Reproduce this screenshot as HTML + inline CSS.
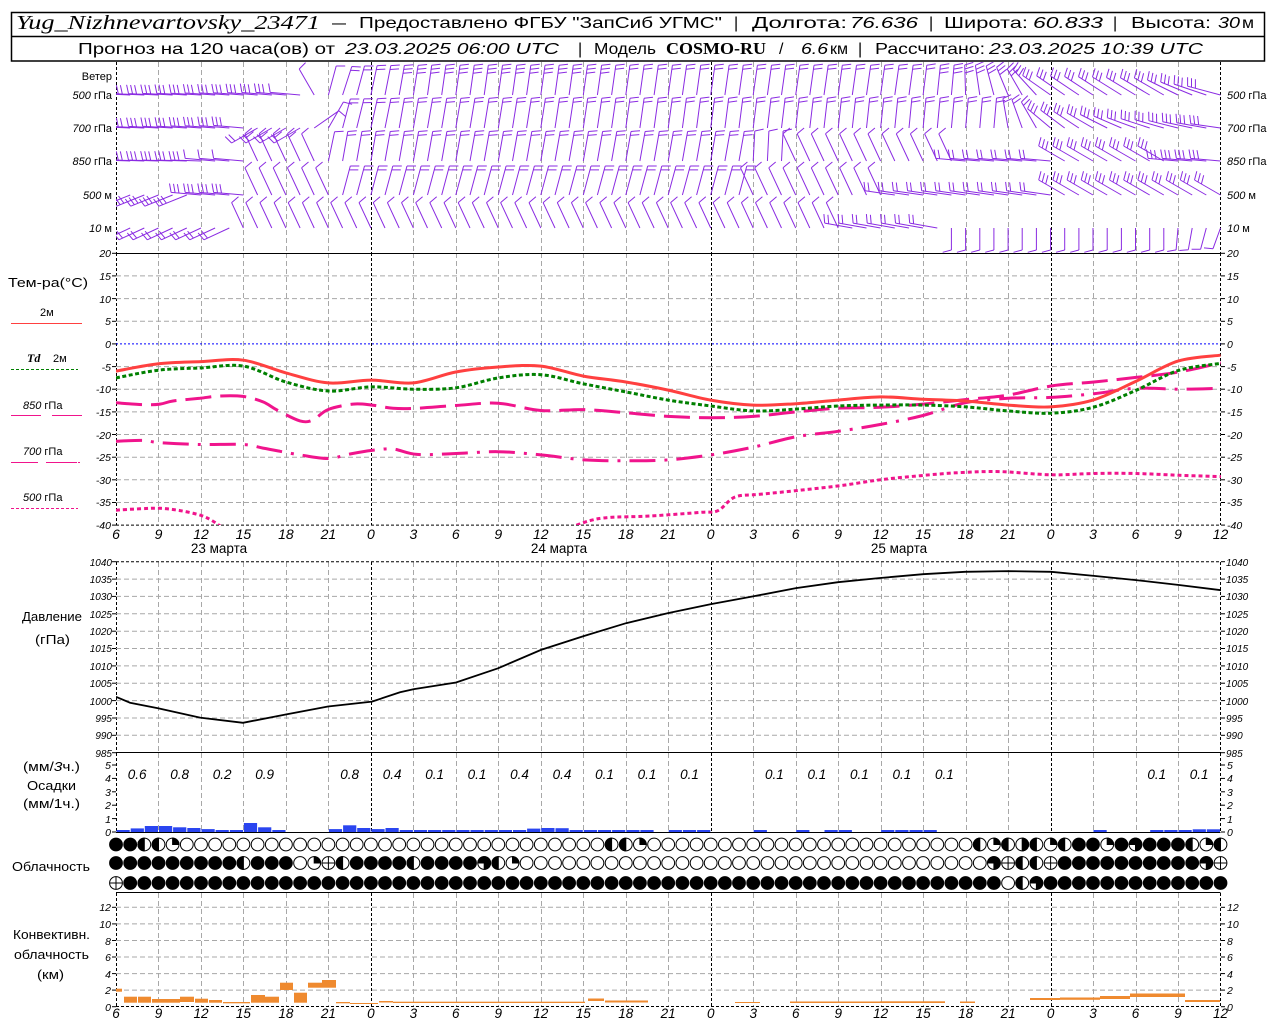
<!DOCTYPE html>
<html><head><meta charset="utf-8">
<style>
html,body{margin:0;padding:0;background:#fff;}
svg{display:block;}
text{font-family:"Liberation Sans",sans-serif;fill:#000;}
.it{font-style:italic;}
.tk{font-size:10.5px;font-style:italic;}
.tm{font-size:14px;font-style:italic;}
.lb{font-size:12.5px;}
.hd{font-size:16px;}
</style></head>
<body>
<svg id="s" width="1280" height="1024" viewBox="0 0 1280 1024" xmlns="http://www.w3.org/2000/svg">
<defs>
<clipPath id="cw"><rect x="116" y="62" width="1105" height="191"/></clipPath>
<clipPath id="ct"><rect x="116" y="253" width="1105" height="272"/></clipPath>
<clipPath id="cp"><rect x="116" y="562" width="1105" height="191"/></clipPath>
</defs>
<rect x="0" y="0" width="1280" height="1024" fill="#fff"/>
<g id="gfx"></g>

<!-- header -->
<rect x="11.5" y="12.5" width="1253" height="48.5" fill="none" stroke="#000" stroke-width="1.5"/>
<line x1="11.5" y1="36.5" x2="1264.5" y2="36.5" stroke="#000" stroke-width="1.5"/>
<text x="16" y="29" style="font-family:'Liberation Serif',serif;font-style:italic;font-size:20px" textLength="304" lengthAdjust="spacingAndGlyphs">Yug_Nizhnevartovsky_23471</text>
<text class="hd" x="332" y="28" textLength="14" lengthAdjust="spacingAndGlyphs">—</text>
<text class="hd" x="359" y="28" textLength="363" lengthAdjust="spacingAndGlyphs">Предоставлено ФГБУ "ЗапСиб УГМС"</text>
<text class="hd" x="734" y="28">|</text>
<text class="hd" x="752" y="28" textLength="95" lengthAdjust="spacingAndGlyphs">Долгота:</text>
<text class="hd it" x="850" y="28" textLength="68" lengthAdjust="spacingAndGlyphs">76.636</text>
<text class="hd" x="929" y="28">|</text>
<text class="hd" x="944" y="28" textLength="84" lengthAdjust="spacingAndGlyphs">Широта:</text>
<text class="hd it" x="1033" y="28" textLength="70" lengthAdjust="spacingAndGlyphs">60.833</text>
<text class="hd" x="1113" y="28">|</text>
<text class="hd" x="1131" y="28" textLength="80" lengthAdjust="spacingAndGlyphs">Высота:</text>
<text class="hd it" x="1218" y="28" textLength="22" lengthAdjust="spacingAndGlyphs">30</text>
<text class="hd" x="1242" y="28" textLength="12" lengthAdjust="spacingAndGlyphs">м</text>

<text class="hd" x="78" y="54" textLength="257" lengthAdjust="spacingAndGlyphs">Прогноз на 120 часа(ов) от</text>
<text class="hd it" x="345" y="54" textLength="214" lengthAdjust="spacingAndGlyphs">23.03.2025 06:00 UTC</text>
<text class="hd" x="578" y="54">|</text>
<text class="hd" x="594" y="54" textLength="62" lengthAdjust="spacingAndGlyphs">Модель</text>
<text x="666" y="54" style="font-family:'Liberation Serif',serif;font-weight:bold;font-size:17px" textLength="100" lengthAdjust="spacingAndGlyphs">COSMO-RU</text>
<text class="hd" x="779" y="54">/</text>
<text class="hd it" x="801" y="54" textLength="27" lengthAdjust="spacingAndGlyphs">6.6</text>
<text class="hd" x="830" y="54" textLength="18" lengthAdjust="spacingAndGlyphs">км</text>
<text class="hd" x="858" y="54">|</text>
<text class="hd" x="875" y="54" textLength="110" lengthAdjust="spacingAndGlyphs">Рассчитано:</text>
<text class="hd it" x="989" y="54" textLength="214" lengthAdjust="spacingAndGlyphs">23.03.2025 10:39 UTC</text>

<!-- wind labels -->
<g class="lb" style="font-size:11px">
<text x="112" y="80" text-anchor="end">Ветер</text>
<text x="112" y="99" text-anchor="end"><tspan class="it">500</tspan> гПа</text>
<text x="112" y="132" text-anchor="end"><tspan class="it">700</tspan> гПа</text>
<text x="112" y="165" text-anchor="end"><tspan class="it">850</tspan> гПа</text>
<text x="112" y="199" text-anchor="end"><tspan class="it">500</tspan>  м</text>
<text x="112" y="232" text-anchor="end"><tspan class="it">10</tspan>   м</text>
<text x="1227" y="99"><tspan class="it">500</tspan> гПа</text>
<text x="1227" y="132"><tspan class="it">700</tspan> гПа</text>
<text x="1227" y="165"><tspan class="it">850</tspan> гПа</text>
<text x="1227" y="199"><tspan class="it">500</tspan>  м</text>
<text x="1227" y="232"><tspan class="it">10</tspan>   м</text>
</g>

<!-- temperature legend -->
<text class="lb" x="8" y="287" textLength="80" lengthAdjust="spacingAndGlyphs">Тем-ра(°С)</text>
<text class="lb" x="40" y="316" style="font-size:11px">2м</text>
<line x1="11" y1="323.5" x2="82" y2="323.5" stroke="#ff4040" stroke-width="1"/>
<text x="27" y="362" style="font-family:'Liberation Serif',serif;font-style:italic;font-weight:bold;font-size:12px">Td</text>
<text class="lb" x="53" y="362" style="font-size:11px">2м</text>
<line x1="11" y1="369.5" x2="78" y2="369.5" stroke="#008000" stroke-width="1" stroke-dasharray="3,2"/>
<text class="lb" x="23" y="409" style="font-size:11px"><tspan class="it">850</tspan>  гПа</text>
<line x1="11" y1="415.5" x2="41" y2="415.5" stroke="#f0148c" stroke-width="1"/>
<line x1="52" y1="415.5" x2="82" y2="415.5" stroke="#f0148c" stroke-width="1"/>
<text class="lb" x="23" y="455" style="font-size:11px"><tspan class="it">700</tspan>  гПа</text>
<path d="M11 462.5H38M46 462.5H49M49 462.5H77M78 462.5H80" stroke="#f0148c" stroke-width="1"/>
<text class="lb" x="23" y="501" style="font-size:11px"><tspan class="it">500</tspan>  гПа</text>
<line x1="11" y1="508.5" x2="78" y2="508.5" stroke="#f0148c" stroke-width="1" stroke-dasharray="3,2"/>

<!-- temp ticks labels -->
<g class="tk">
<g text-anchor="end">
<text x="111" y="257">20</text><text x="111" y="280">15</text><text x="111" y="303">10</text><text x="111" y="325">5</text><text x="111" y="348">0</text><text x="111" y="371">-5</text><text x="111" y="393">-10</text><text x="111" y="416">-15</text><text x="111" y="439">-20</text><text x="111" y="461">-25</text><text x="111" y="484">-30</text><text x="111" y="506">-35</text><text x="111" y="529">-40</text>
</g>
<text x="1227" y="257">20</text><text x="1227" y="280">15</text><text x="1227" y="303">10</text><text x="1227" y="325">5</text><text x="1227" y="348">0</text><text x="1227" y="371">-5</text><text x="1227" y="393">-10</text><text x="1227" y="416">-15</text><text x="1227" y="439">-20</text><text x="1227" y="461">-25</text><text x="1227" y="484">-30</text><text x="1227" y="506">-35</text><text x="1227" y="529">-40</text>
</g>

<!-- time labels upper -->
<g class="tm" text-anchor="middle">
<text x="116" y="539">6</text><text x="158.5" y="539">9</text><text x="201" y="539">12</text><text x="243.4" y="539">15</text><text x="285.9" y="539">18</text><text x="328.4" y="539">21</text><text x="370.9" y="539">0</text><text x="413.4" y="539">3</text><text x="455.8" y="539">6</text><text x="498.3" y="539">9</text><text x="540.8" y="539">12</text><text x="583.3" y="539">15</text><text x="625.8" y="539">18</text><text x="668.2" y="539">21</text><text x="710.7" y="539">0</text><text x="753.2" y="539">3</text><text x="795.7" y="539">6</text><text x="838.2" y="539">9</text><text x="880.6" y="539">12</text><text x="923.1" y="539">15</text><text x="965.6" y="539">18</text><text x="1008.1" y="539">21</text><text x="1050.6" y="539">0</text><text x="1093" y="539">3</text><text x="1135.5" y="539">6</text><text x="1178" y="539">9</text><text x="1220.5" y="539">12</text>
</g>
<g style="font-size:13.5px" text-anchor="middle">
<text x="219" y="553">23 марта</text>
<text x="559" y="553">24 марта</text>
<text x="899" y="553">25 марта</text>
</g>

<!-- pressure labels -->
<text class="lb" x="22" y="621" textLength="60" lengthAdjust="spacingAndGlyphs">Давление</text>
<text class="lb" x="35" y="644" textLength="35" lengthAdjust="spacingAndGlyphs">(гПа)</text>
<g class="tk" style="font-size:10px">
<g text-anchor="end">
<text x="112" y="566">1040</text><text x="112" y="583">1035</text><text x="112" y="600">1030</text><text x="112" y="618">1025</text><text x="112" y="635">1020</text><text x="112" y="652">1015</text><text x="112" y="670">1010</text><text x="112" y="687">1005</text><text x="112" y="705">1000</text><text x="112" y="722">995</text><text x="112" y="739">990</text><text x="112" y="757">985</text>
</g>
<text x="1226" y="566">1040</text><text x="1226" y="583">1035</text><text x="1226" y="600">1030</text><text x="1226" y="618">1025</text><text x="1226" y="635">1020</text><text x="1226" y="652">1015</text><text x="1226" y="670">1010</text><text x="1226" y="687">1005</text><text x="1226" y="705">1000</text><text x="1226" y="722">995</text><text x="1226" y="739">990</text><text x="1226" y="757">985</text>
</g>

<!-- precip labels -->
<text class="lb" x="23" y="771" textLength="57" lengthAdjust="spacingAndGlyphs">(мм/<tspan class="it">3</tspan>ч.)</text>
<text class="lb" x="27" y="790" textLength="49" lengthAdjust="spacingAndGlyphs">Осадки</text>
<text class="lb" x="23" y="808" textLength="57" lengthAdjust="spacingAndGlyphs">(мм/1ч.)</text>
<g class="tk">
<g text-anchor="end">
<text x="111" y="769">5</text><text x="111" y="782">4</text><text x="111" y="796">3</text><text x="111" y="809">2</text><text x="111" y="823">1</text><text x="111" y="836">0</text>
</g>
<text x="1227" y="769">5</text><text x="1227" y="782">4</text><text x="1227" y="796">3</text><text x="1227" y="809">2</text><text x="1227" y="823">1</text><text x="1227" y="836">0</text>
</g>
<g class="it" style="font-size:13.5px" text-anchor="middle">
<text x="137.2" y="779">0.6</text><text x="179.7" y="779">0.8</text><text x="222.2" y="779">0.2</text><text x="264.7" y="779">0.9</text><text x="349.6" y="779">0.8</text><text x="392.1" y="779">0.4</text><text x="434.6" y="779">0.1</text><text x="477" y="779">0.1</text><text x="519.5" y="779">0.4</text><text x="562" y="779">0.4</text><text x="604.5" y="779">0.1</text><text x="647" y="779">0.1</text><text x="689.5" y="779">0.1</text><text x="774.4" y="779">0.1</text><text x="816.9" y="779">0.1</text><text x="859.4" y="779">0.1</text><text x="901.9" y="779">0.1</text><text x="944.4" y="779">0.1</text><text x="1156.8" y="779">0.1</text><text x="1199.2" y="779">0.1</text>
</g>

<!-- cloud label -->
<text class="lb" x="12" y="871" textLength="78" lengthAdjust="spacingAndGlyphs">Облачность</text>

<!-- convective labels -->
<text class="lb" x="13" y="939" textLength="77" lengthAdjust="spacingAndGlyphs">Конвективн.</text>
<text class="lb" x="14" y="959" textLength="75" lengthAdjust="spacingAndGlyphs">облачность</text>
<text class="lb" x="37" y="979" textLength="27" lengthAdjust="spacingAndGlyphs">(км)</text>
<g class="tk">
<g text-anchor="end">
<text x="111" y="911">12</text><text x="111" y="928">10</text><text x="111" y="945">8</text><text x="111" y="961">6</text><text x="111" y="978">4</text><text x="111" y="994">2</text><text x="111" y="1011">0</text>
</g>
<text x="1227" y="911">12</text><text x="1227" y="928">10</text><text x="1227" y="945">8</text><text x="1227" y="961">6</text><text x="1227" y="978">4</text><text x="1227" y="994">2</text><text x="1227" y="1011">0</text>
</g>
<g class="tm" style="font-size:13.5px" text-anchor="middle">
<text x="116" y="1018">6</text><text x="158.5" y="1018">9</text><text x="201" y="1018">12</text><text x="243.4" y="1018">15</text><text x="285.9" y="1018">18</text><text x="328.4" y="1018">21</text><text x="370.9" y="1018">0</text><text x="413.4" y="1018">3</text><text x="455.8" y="1018">6</text><text x="498.3" y="1018">9</text><text x="540.8" y="1018">12</text><text x="583.3" y="1018">15</text><text x="625.8" y="1018">18</text><text x="668.2" y="1018">21</text><text x="710.7" y="1018">0</text><text x="753.2" y="1018">3</text><text x="795.7" y="1018">6</text><text x="838.2" y="1018">9</text><text x="880.6" y="1018">12</text><text x="923.1" y="1018">15</text><text x="965.6" y="1018">18</text><text x="1008.1" y="1018">21</text><text x="1050.6" y="1018">0</text><text x="1093" y="1018">3</text><text x="1135.5" y="1018">6</text><text x="1178" y="1018">9</text><text x="1220.5" y="1018">12</text>
</g>
</svg>

<script>
(function(){
const NS="http://www.w3.org/2000/svg";
const G=document.getElementById('gfx');
function mk(tag,a,p){const e=document.createElementNS(NS,tag);for(const k in a)e.setAttribute(k,a[k]);(p||G).appendChild(e);return e;}
const X=h=>116+h*14.16;
const XL=116, XR=X(78);
const YT=t=>253.3+(20-t)*4.53;
const YP=p=>561.7+(1040-p)*3.4727;
const YR=v=>832-v*13.4;
const YC=k=>1006.7-k*8.28;
const f=v=>v.toFixed(1);

/* ---------- grids ---------- */
const grid=mk('g',{'stroke-width':1,fill:'none'});
function hl(y,col,dash){mk('line',{x1:XL,x2:XR,y1:y,y2:y,stroke:col,'stroke-dasharray':dash||'none'},grid);}
const panels=[[62,253],[253,525],[562,753],[753,832],[893,1007]];
for(const [t,b] of panels){
  for(let k=0;k<=26;k++){
    const x=Math.round(X(3*k))+0.5;
    const day=(k==0||k==6||k==14||k==22||k==26);
    mk('line',{x1:x,x2:x,y1:t,y2:b,stroke:day?'#000':'#a8a8a8','stroke-dasharray':day?'3,2':'5,3'},grid);
  }
}
for(let t=15;t>=-35;t-=5){ if(t!==0) hl(f(YT(t)),'#a8a8a8','5,3'); }
hl(f(YT(0)),'#0000ff','2,2');
hl(f(YT(-40)),'#000','3,2');
hl(253.5,'#000');
for(let p=1035;p>=990;p-=5) hl(f(YP(p)),'#a8a8a8','5,3');
hl(f(YP(1040)),'#000','3,2');
hl(752.5,'#000');
hl(832.5,'#000');
for(let k=2;k<=12;k+=2) hl(f(YC(k)),'#a8a8a8','5,3');
hl(892.5,'#000');
hl(1006.5,'#000','3,2');
/* ticks */
function ticks(vals,fy){for(const v of vals){const y=f(fy(v));mk('line',{x1:112,x2:116,y1:y,y2:y,stroke:'#000'},grid);mk('line',{x1:1221,x2:1225,y1:y,y2:y,stroke:'#000'},grid);}}
ticks([20,15,10,5,0,-5,-10,-15,-20,-25,-30,-35,-40],YT);
ticks([1040,1035,1030,1025,1020,1015,1010,1005,1000,995,990,985],YP);
ticks([0,1,2,3,4,5],YR);
ticks([0,2,4,6,8,10,12],YC);

/* ---------- smooth path ---------- */
function smooth(pts){
  let d='M'+f(pts[0][0])+' '+f(pts[0][1]);
  for(let i=0;i<pts.length-1;i++){
    const p0=pts[Math.max(0,i-1)],p1=pts[i],p2=pts[i+1],p3=pts[Math.min(pts.length-1,i+2)];
    d+='C'+f(p1[0]+(p2[0]-p0[0])/6)+' '+f(p1[1]+(p2[1]-p0[1])/6)+' '+f(p2[0]-(p3[0]-p1[0])/6)+' '+f(p2[1]-(p3[1]-p1[1])/6)+' '+f(p2[0])+' '+f(p2[1]);
  }
  return d;
}
const tg=mk('g',{'clip-path':'url(#ct)',fill:'none','stroke-linecap':'butt'});
function series3(vals,st){const pts=vals.map((v,i)=>[X(3*i),YT(v)]);const a=Object.assign({d:smooth(pts)},st);mk('path',a,tg);}
function seriesX(arr,st,fy,p){const pts=arr.map(q=>[q[0],fy(q[1])]);const a=Object.assign({d:smooth(pts)},st);mk('path',a,p);}
const PINK='#f0148c';
// 500 hPa
seriesX([[116,-36.7],[140,-36.4],[160,-36.3],[180,-36.8],[200,-37.8],[212,-39],[225,-41]],{stroke:PINK,'stroke-width':3,'stroke-dasharray':'4,3'},YT,tg);
seriesX([[570,-40.6],[590,-39],[610,-38.3],[650,-38],[700,-37.2],[718,-36.8],[735,-33.8],[760,-33.2],[800,-32.3],[840,-31.3],[880,-30],[920,-29.1],[960,-28.4],[1000,-28.2],[1051,-28.9],[1094,-28.6],[1136,-28.6],[1179,-29],[1221,-29.3]],{stroke:PINK,'stroke-width':3,'stroke-dasharray':'4,3'},YT,tg);
// 700 hPa
seriesX([[116,-21.5],[143,-21.3],[160,-21.8],[200,-22.2],[243,-22.2],[263,-23],[280,-23.7],[300,-24.5],[328,-25.3],[350,-24.3],[372,-23.5],[393,-23.2],[417,-24.4],[456,-24.2],[498,-23.8],[541,-24.5],[584,-25.6],[626,-25.8],[668,-25.6],[711,-24.5],[753,-22.8],[796,-20.5],[838,-19.3],[880,-17.8],[923,-15.8],[965,-13],[1008,-12],[1051,-11.8],[1094,-11],[1136,-9.8],[1179,-10],[1221,-9.8]],{stroke:PINK,'stroke-width':3,'stroke-dasharray':'26,9,3,9'},YT,tg);
// 850 hPa
seriesX([[116,-13],[143,-13.4],[160,-13.3],[173,-12.6],[200,-12],[220,-11.5],[243,-11.6],[263,-12.8],[277,-14.6],[300,-17],[313,-16.8],[328,-14.5],[353,-13.3],[372,-13.5],[393,-14.2],[417,-14.2],[456,-13.6],[498,-13.1],[541,-14.7],[584,-14.5],[626,-15.2],[668,-16],[711,-16.3],[753,-16],[796,-15],[838,-14.2],[880,-14],[923,-13.3],[965,-12.3],[1008,-11.3],[1051,-9.3],[1094,-8.4],[1136,-7.4],[1179,-6.2],[1221,-4.2]],{stroke:PINK,'stroke-width':3,'stroke-dasharray':'26,9'},YT,tg);
// Td
series3([-7.5,-5.8,-5.3,-4.9,-8.4,-10.4,-9.5,-10.0,-9.7,-7.5,-6.8,-8.8,-10.6,-12.4,-13.7,-14.8,-14.4,-13.7,-13.5,-13.5,-13.9,-14.8,-15.3,-14.0,-10.3,-5.9,-4.3],{stroke:'#008000','stroke-width':3,'stroke-dasharray':'4,2.5'});
// T2m
series3([-6.0,-4.4,-3.9,-3.6,-6.4,-8.6,-8.0,-8.6,-6.2,-5.1,-4.9,-7.1,-8.4,-10.2,-12.4,-13.5,-13.2,-12.4,-11.7,-12.2,-12.6,-13.5,-13.9,-12.4,-8.3,-3.8,-2.5],{stroke:'#ff4040','stroke-width':3});

/* ---------- pressure ---------- */
const pg=mk('g',{'clip-path':'url(#cp)',fill:'none'});
const pk=[[116,1001.1],[130,999.4],[158,997.8],[200,995.1],[243,993.6],[287,996.1],[328,998.3],[372,999.7],[400,1002.4],[414,1003.3],[456,1005.2],[498,1009.3],[541,1014.6],[584,1018.6],[626,1022.3],[668,1025.2],[711,1027.8],[753,1030],[796,1032.4],[838,1034.1],[880,1035.3],[923,1036.4],[965,1037.1],[1008,1037.3],[1051,1037.1],[1094,1035.9],[1136,1034.7],[1179,1033.3],[1221,1031.8]];
mk('polyline',{points:pk.map(q=>f(q[0])+','+f(YP(q[1]))).join(' '),stroke:'#000','stroke-width':1.8,fill:'none'},pg);

/* ---------- precipitation ---------- */
const pr=[.15,.27,.45,.45,.35,.3,.22,.15,.15,.67,.35,.1,0,0,0,.22,.5,.3,.22,.3,.15,.1,.05,.05,.08,.08,.08,.15,.15,.25,.3,.28,.15,.1,.05,.05,.05,.05,0,.05,.05,.05,0,0,0,.05,0,0,.05,0,.05,.05,0,0,.05,.05,.05,.05,0,0,0,0,0,0,0,0,0,0,0,.05,0,0,0,.08,.08,.08,.2,.2];
const rg=mk('g',{fill:'#2a45f0'});
pr.forEach((v,h)=>{ if(v>0){const hh=Math.max(2,v*13.4);const x1=X(h)+0.5,x2=X(h+1)-0.5;mk('rect',{x:f(x1),y:f(832-hh),width:f(x2-x1),height:f(hh)},rg);} });

/* ---------- convective ---------- */
const cb=[[116,122,988.7,991.7],[124,137,996.7,1002.7],[138,151,996.7,1002.7],[152,180,999,1002.7],[180,194,996.7,1002],[195,208,998.7,1002.7],[209,222,1000,1002.7],[223,250,1002,1003.3],[251,265,995,1002.7],[265,279,996.7,1002.7],[280,293,982.7,990],[294,307,992.7,1002.7],[308,322,982.7,987.7],[322,336,980,987.7],[336,350,1002,1003.3],[350,364,1003,1004],[364,378,1003,1004],[379,393,1001,1002.5],[393,500,1001.7,1003],[500,585,1001.7,1003],[588,604,998.5,1001],[605,648,1000.5,1002.5],[735,760,1002,1003],[790,880,1001.5,1003],[880,945,1001.3,1003],[960,975,1001.5,1003],[1030,1060,998,1000],[1060,1100,997.5,999.8],[1100,1130,996,999],[1130,1185,993.5,997],[1185,1220,1000,1002]];
const cg=mk('g',{fill:'#ef8a2f'});
cb.forEach(b=>mk('rect',{x:b[0],y:b[2],width:b[1]-b[0],height:f(b[3]-b[2])},cg));

/* ---------- clouds ---------- */
function rowStr(spec){let s='';for(const [c,n] of spec) s+=c.repeat(n);return s;}
const r1=rowStr([['F',2],['L',2],['Q',1],['E',30],['L',2],['Q',1],['E',23],['L',1],['Q',1],['L',1],['R',1],['L',1],['Q',1],['L',1],['F',2],['Q',1],['F',1],['T',1],['F',3],['L',1],['Q',1],['L',1]]);
const r2=rowStr([['F',9],['L',1],['F',3],['E',1],['Q',1],['X',1],['L',1],['F',4],['L',1],['F',4],['T',1],['L',1],['Q',1],['E',33],['T',1],['X',1],['L',2],['X',1],['F',10],['T',1],['X',1]]);
const r3=rowStr([['X',1],['F',62],['E',1],['L',1],['T',1],['F',13]]);
const og=mk('g',{stroke:'#000','stroke-width':1});
function cloud(x,y,c){
  const r=6.4;
  mk('circle',{cx:f(x),cy:y,r:r,fill:c==='F'?'#000':'#fff'},og);
  const X1=f(x),L=f(x-r),R=f(x+r),T=f(y-r),B=f(y+r);
  if(c==='L') mk('path',{d:`M${X1} ${T}A${r} ${r} 0 0 0 ${X1} ${B}Z`,fill:'#000'},og);
  if(c==='R') mk('path',{d:`M${X1} ${T}A${r} ${r} 0 0 1 ${X1} ${B}Z`,fill:'#000'},og);
  if(c==='Q') mk('path',{d:`M${X1} ${y}L${X1} ${T}A${r} ${r} 0 0 1 ${R} ${y}Z`,fill:'#000'},og);
  if(c==='T') mk('path',{d:`M${X1} ${y}L${L} ${y}A${r} ${r} 0 1 1 ${X1} ${B}Z`,fill:'#000'},og);
  if(c==='X') mk('path',{d:`M${L} ${y}H${R}M${X1} ${T}V${B}`,fill:'none'},og);
}
[[r1,844.5],[r2,863],[r3,883]].forEach(([s,y])=>{for(let h=0;h<=78;h++){cloud(X(h),y,s[h]||'F');}});

/* ---------- wind barbs ---------- */
function barbRow(yb,L,kf){
  const g=mk('g',{stroke:'#8a2be2','stroke-width':1,fill:'none','clip-path':'url(#cw)'});
  const c=Math.cos(75*Math.PI/180),s=Math.sin(75*Math.PI/180);
  for(let h=0;h<=78;h++){
    let i=0; while(i<kf.length-2 && h>kf[i+1][0]) i++;
    const A=kf[i],B=kf[i+1];
    const t=B[0]>A[0]?Math.min(1,Math.max(0,(h-A[0])/(B[0]-A[0]))):0;
    const ang=(A[1]+(B[1]-A[1])*t)*Math.PI/180;
    const n=t<0.5?A[2]:B[2];
    const len=(A[3]!==undefined&&t<0.5)?A[3]:(B[3]!==undefined&&t>=0.5?B[3]:L);
    const x=X(h),dx=Math.sin(ang),dy=-Math.cos(ang);
    const tx=x+len*dx,ty=yb+len*dy;
    let d='M'+f(x)+' '+yb+'L'+f(tx)+' '+f(ty);
    const bx=dx*c-dy*s,by=dx*s+dy*c;
    for(let j=0;j<Math.ceil(n);j++){
      const bl=(n-j<1)?5:9;
      const sx=tx-j*4*dx,sy=ty-j*4*dy;
      d+='M'+f(sx)+' '+f(sy)+'l'+f(bl*bx)+' '+f(bl*by);
    }
    mk('path',{d:d},g);
  }
}
barbRow(95,30,[[0,-88,3],[12,-85,3],[13,-85,1],[14,-30,1],[15,15,1],[16,18,2],[18,12,2],[22,8,3],[34,8,3],[35,8,2],[56,8,2],[59,5,3],[62,-15,3],[64,-30,3],[66,-55,3,34],[74,-60,3,34],[78,-75,3,34]]);
barbRow(128,30,[[0,-88,3],[9,-85,3],[10,-120,2],[13,-120,2],[14,55,1],[15,30,1],[16,15,2],[20,10,2],[62,5,2],[63,-10,2],[65,-30,2],[66,-50,3],[72,-70,3],[78,-82,3]]);
barbRow(161,30,[[0,-88,3],[6,-88,3],[7,-85,1],[9,-85,1],[10,-25,2],[13,-25,2],[14,-25,1],[15,12,1],[16,10,2],[44,10,2],[45,3,1],[47,3,1],[48,-25,1],[59,-25,1],[60,-85,2],[66,-85,2],[67,-60,3],[74,-60,3],[75,-85,3],[78,-85,3]]);
barbRow(195,30,[[0,-112,3],[5,-112,3],[6,-85,3],[9,-85,3],[10,-25,1],[15,-25,1],[16,15,2],[44,15,2],[45,-25,1],[54,-25,1],[55,-82,2],[66,-82,2],[67,-60,3],[78,-60,3]]);
barbRow(228,28,[[0,-115,2],[8,-115,2],[9,-25,1],[51,-25,1],[52,-80,2],[58,-80,2],[59,180,1,22],[74,180,1,22],[78,200,1,22]]);
})();
</script>
</body></html>
